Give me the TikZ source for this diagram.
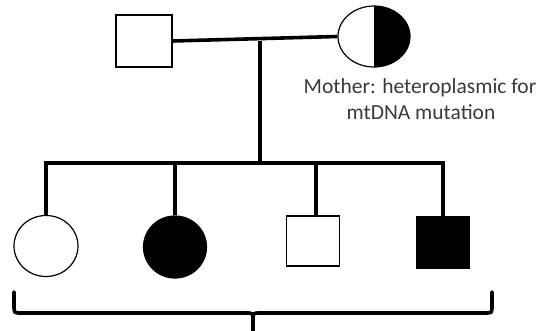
\documentclass[tikz,border=0pt]{standalone}
\usepackage{fontspec}
\setmainfont{Carlito}
\usetikzlibrary{shapes.geometric}
\definecolor{txtgray}{HTML}{3A3A3A}
\begin{document}
\begin{tikzpicture}[x=1pt,y=-1pt,
  line/.style={line width=3.6pt},
  sym/.style={draw=black,line width=1.2pt,inner sep=0pt},
  sq/.style={sym,rectangle,minimum width=53pt,minimum height=51pt},
  circ/.style={sym,ellipse,minimum width=64pt,minimum height=61pt},
  lbl/.style={text=txtgray,font=\fontsize{21.5}{27}\selectfont,anchor=base,inner sep=0pt}]
\useasboundingbox (0,0) rectangle (544,331);
% parents
\node[sq,minimum width=56pt,minimum height=52pt] (father) at (144,41) {};
\node[circ,minimum width=72pt,minimum height=61pt] (mother) at (374,36.5) {};
\begin{scope}
  \clip (374,0) rectangle (420,80);
  \fill (374,36.5) ellipse (36 and 30.5);
\end{scope}
\node[lbl] (label1) at (420,94) {Mother: heteroplasmic for};
\node[lbl] (label2) at (421,120) {mtDNA mutation};
% children
\node[circ] (c1) at (46,246) {};
\node[circ,fill=black,minimum width=63pt,minimum height=62pt] (c2) at (175,247) {};
\node[sq,minimum height=50pt] (c3) at (313,241) {};
\node[sq,fill=black,minimum width=52pt] (c4) at (443,242.5) {};
% connectors
\coordinate (m) at (260,41);
\coordinate (sibL) at (46,163);
\coordinate (sibR) at (443,163);
\draw[line] (father.east) -- (mother.west);
\draw[line] (m) -- (m |- sibL);
\draw[line] ([xshift=-1.8pt]sibL) -- ([xshift=1.8pt]sibR);
\draw[line] (sibL) -- (c1.north);
\draw[line] (c2 |- sibL) -- (c2.north);
\draw[line] (316,163) coordinate (s3) -- (s3 |- c3.north);
\draw[line] (sibR) -- (c4.north);
% brace
\coordinate (bl) at (14,292);
\coordinate (br) at (492,292);
\coordinate (bm) at (253,331);
\draw[line,line cap=round] (bl) -- (14,305) .. controls (14,313) .. (21,313) -- (246,313) .. controls (253,313) .. (253,320) -- (bm);
\draw[line,line cap=round] (br) -- (492,305) .. controls (492,313) .. (485,313) -- (260,313) .. controls (253,313) .. (253,320);
\end{tikzpicture}
\end{document}
